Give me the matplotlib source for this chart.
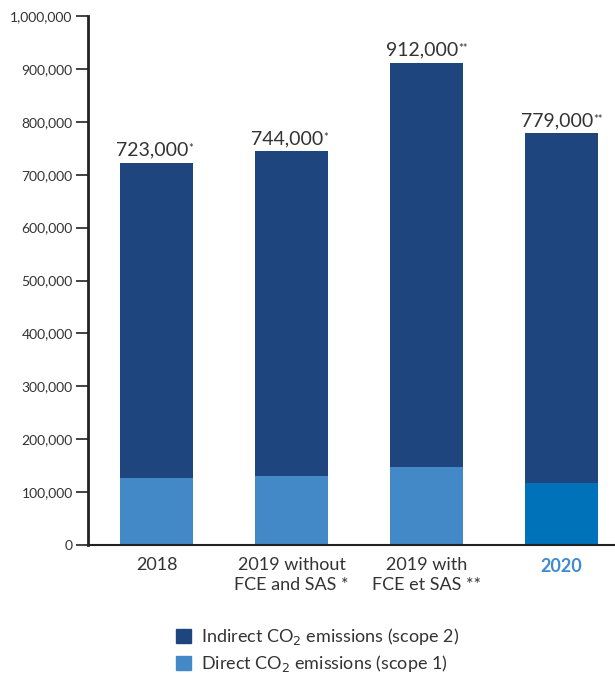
import matplotlib.pyplot as plt
from matplotlib.patches import Patch
import numpy as np

plt.rcParams['font.family'] = ['Lato', 'DejaVu Sans']

# Data
categories = ['2018', '2019 without\nFCE and SAS *', '2019 with\nFCE et SAS **', '2020']
totals = [723000, 744000, 912000, 779000]
direct = [127000, 130000, 147000, 117000]
indirect = [t - d for t, d in zip(totals, direct)]
total_labels = ['723,000', '744,000', '912,000', '779,000']
total_marks = ['*', '*', '**', '**']
yticks = [0, 100000, 200000, 300000, 400000, 500000, 600000, 700000, 800000, 900000, 1000000]

# Colours
c_indirect = '#1f457e'
c_direct = '#4389c8'
c_direct_2020 = '#0072ba'
c_text = '#333333'

fig = plt.figure(figsize=(6.15, 6.74), dpi=100)
ax = fig.add_axes([88 / 615, 129 / 674, 527 / 615, 529 / 674])

x = np.arange(len(categories))
direct_colors = [c_direct, c_direct, c_direct, c_direct_2020]
ax.bar(x, direct, width=0.54, color=direct_colors, zorder=2)
ax.bar(x, indirect, width=0.54, bottom=direct, color=c_indirect, zorder=2)

# Total labels with small superscript asterisks
for xi, tot, lab, mark in zip(x, totals, total_labels, total_marks):
    t = ax.text(xi - 0.03, tot + 7000, lab, ha='center', va='bottom',
                fontsize=14, color=c_text)
    ax.annotate(mark, xy=(1, 0.92), xycoords=t, ha='left', va='top',
                fontsize=8, color=c_text)

ax.set_xlim(-0.507, 3.396)
ax.set_ylim(0, 1000000)
ax.set_yticks(yticks)
ax.set_yticklabels([f'{v:,}' for v in yticks], fontsize=10, color=c_text)
ax.tick_params(axis='y', direction='out', length=9, width=1.2, color='#222222', pad=2)

ax.set_xticks(x)
ax.set_xticklabels(categories, fontsize=13, color=c_text, linespacing=1.25)
ax.tick_params(axis='x', length=0, pad=9)
ax.get_xticklabels()[3].set_color('#3f8bd0')
ax.get_xticklabels()[3].set_fontweight('bold')

for side in ['top', 'right']:
    ax.spines[side].set_visible(False)
ax.spines['left'].set_linewidth(2)
ax.spines['left'].set_color('#222222')
ax.spines['bottom'].set_linewidth(1.5)
ax.spines['bottom'].set_color('#222222')

handles = [Patch(color=c_indirect, label='Indirect CO$_2$ emissions (scope 2)'),
           Patch(color=c_direct, label='Direct CO$_2$ emissions (scope 1)')]
leg = fig.legend(handles=handles, loc='upper left', bbox_to_anchor=(167 / 615, 1 - 617 / 674),
                 frameon=False, fontsize=13, handlelength=0.85, handleheight=0.85,
                 handletextpad=0.55, labelspacing=0.35, borderpad=0)
for t in leg.get_texts():
    t.set_color(c_text)

plt.savefig('out.png', dpi=100)
plt.close()
